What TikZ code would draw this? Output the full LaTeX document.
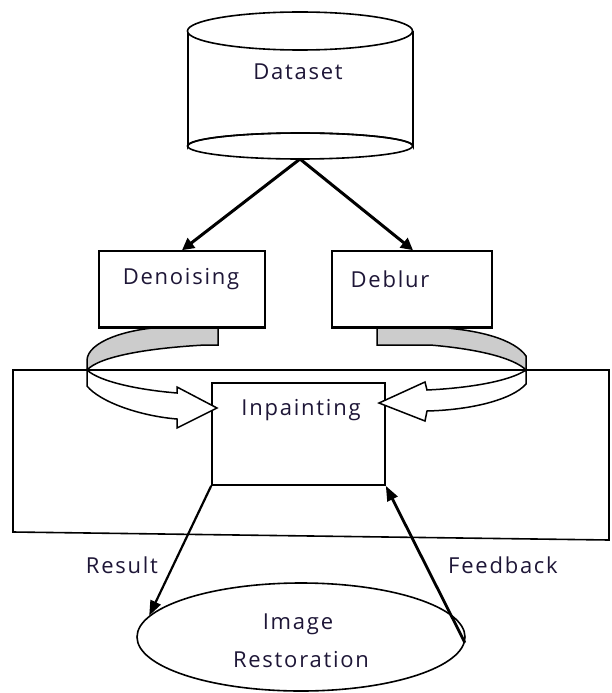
\documentclass[tikz,border=0pt]{standalone}
\usepackage{fontspec}
\setmainfont{Open Sans}[LetterSpace=8]
\usetikzlibrary{arrows.meta,shapes.geometric}
\definecolor{txt}{RGB}{30,22,55}
\definecolor{band}{RGB}{204,204,204}
\tikzset{
  boxshape/.style={draw=black,line width=1.6pt,fill=white,inner sep=0pt},
  lbl/.style={font=\fontsize{22}{25}\selectfont,text=txt,inner sep=0pt},
  thickarrow/.style={draw=black,line width=3pt,-{Triangle[length=12pt,width=12pt]}},
  linkarrow/.style={draw=black,line width=2.2pt,-{Triangle[length=15pt,width=11pt]}},
  curvedpart/.style={draw=black,line width=1.5pt,line join=miter},
}
\begin{document}
\begin{tikzpicture}[x=1pt,y=-1pt]
\useasboundingbox (0,0) rectangle (611,693);
% outer frame
\draw[line width=1.6pt] (13,370) -- (609,370) -- (609,540) -- (13,532) -- cycle;
% cylinder
\draw[line width=1.6pt,fill=white] (188,31) -- (188,146) arc[start angle=180,end angle=360,x radius=112.5,y radius=13] -- (413,31);
\draw[line width=1.6pt] (300,146) ellipse[x radius=112.5,y radius=13];
\draw[line width=1.6pt,fill=white] (300,31) ellipse[x radius=112.5,y radius=19];
\coordinate (dsb) at (300,159);
\node[lbl] (dataset) at (298,72) {Dataset};
% boxes
\node[boxshape,minimum width=166pt,minimum height=76pt] (den) at (182,289) {};
\node[lbl] (dentext) at (181,279) {Denoising};
\node[boxshape,minimum width=160pt,minimum height=76pt] (deb) at (412,289) {};
\node[lbl] (debtext) at (390,279) {Deblur};
\node[boxshape,minimum width=173pt,minimum height=102pt] (inp) at (298.5,434) {};
\node[lbl] (inptext) at (301,410) {Inpainting};
% ellipse
\node[draw=black,line width=1.6pt,ellipse,minimum width=328pt,minimum height=108pt,inner sep=0pt] (ir) at (301,637) {};
\node[lbl] (irtext1) at (298,624) {Image};
\node[lbl] (irtext2) at (301,660) {Restoration};
% arrows from dataset
\draw[thickarrow] (dsb) -- (den.north);
\draw[thickarrow] (dsb) -- ([xshift=1pt]deb.north);
% left curved arrow
\fill[band] (218,327) -- (218,345) -- (205,345) .. controls (150,348) and (100,356) .. (87,370) -- (87,360) .. controls (88,342) and (125,329) .. (165,327) -- cycle;
\draw[curvedpart] (218,327) -- (218,345) -- (205,345) .. controls (150,348) and (100,356) .. (87,370);
\draw[curvedpart] (87,370) -- (87,360) .. controls (88,342) and (125,329) .. (165,327);
\filldraw[curvedpart,fill=white] (87,370) -- (87,386) .. controls (100,402) and (140,416) .. (177,419) -- (177,428) -- (217,408) -- (177,387) -- (177,393) .. controls (140,390) and (100,382) .. (87,370) -- cycle;
% right curved arrow
\fill[band] (377,327) -- (377,345) -- (430,345) .. controls (478,349) and (514,358) .. (526,370) -- (526,356) .. controls (515,340) and (480,329) .. (430,327) -- cycle;
\draw[curvedpart] (377,327) -- (377,345) -- (430,345) .. controls (478,349) and (514,358) .. (526,370);
\draw[curvedpart] (526,370) -- (526,356) .. controls (515,340) and (480,329) .. (430,327);
\filldraw[curvedpart,fill=white] (526,370) -- (526,384) .. controls (512,400) and (470,410) .. (427,411) -- (425,421) -- (379,403) -- (425,382) -- (427,390) .. controls (470,388) and (510,381) .. (526,370) -- cycle;
% redraw box bottoms over band
\draw[line width=1.6pt] (den.south west) -- (den.south east);
\draw[line width=1.6pt] (deb.south west) -- (deb.south east);
% result / feedback
\draw[linkarrow] (inp.south west) -- (ir.172);
\draw[linkarrow,line width=2.8pt] (ir.358) -- (inp.south east);
\node[lbl] (result) at (122,565) {Result};
\node[lbl] (feedback) at (503,565) {Feedback};
\end{tikzpicture}
\end{document}
